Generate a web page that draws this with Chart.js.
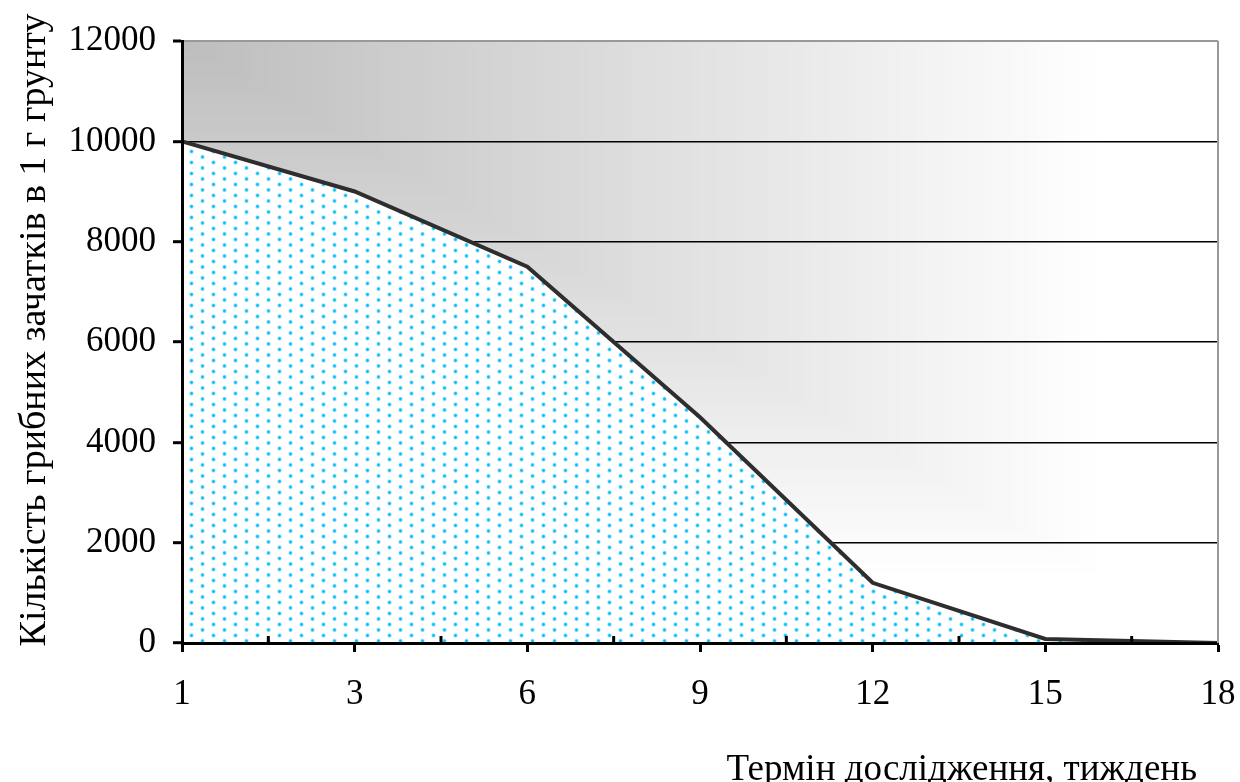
<!DOCTYPE html>
<html>
<head>
<meta charset="utf-8">
<script src="https://cdn.jsdelivr.net/npm/chart.js@4"></script>
<style>
    html, body { margin: 0; padding: 0; background: #fff; }
    #wrap { width: 1240px; height: 782px; }
</style>
</head>
<body>
<div id="wrap"><canvas id="fungiChart" width="1240" height="782"></canvas></div>
<script>
// дані з графіка
const weeks = ["1", "3", "6", "9", "12", "15", "18"];
const sporeCounts = [10000, 9000, 7500, 4500, 1200, 80, 0];
const yTicks = [0, 2000, 4000, 6000, 8000, 10000, 12000];

const FONT = "'Liberation Serif', 'Times New Roman', serif";

// крапчастий бірюзовий візерунок під лінією
function makeDots() {
    const c = document.createElement("canvas");
    c.width = 22; c.height = 11;
    const g = c.getContext("2d");
    g.fillStyle = "#fff";
    g.fillRect(0, 0, 22, 11);
    const pts = [[4.5, 3], [15.5, 8.5]];
    pts.forEach(([x, y]) => {
        g.fillStyle = "rgba(90, 210, 255, 0.55)";
        g.beginPath(); g.arc(x, y, 2.2, 0, Math.PI * 2); g.fill();
        g.fillStyle = "#0bc0f8";
        g.beginPath(); g.arc(x, y, 1.4, 0, Math.PI * 2); g.fill();
    });
    return g.createPattern(c, "repeat");
}

// сірий градієнт "від кута" у полі графіка
const cornerGradient = {
    id: "cornerGradient",
    beforeDraw(chart) {
        const { ctx, chartArea: a } = chart;
        const w = a.right - a.left, h = a.bottom - a.top;
        const N = 120;
        ctx.save();
        for (let k = N; k >= 1; k--) {
            const t = k / N;
            const v = Math.round(Math.min(255, 189 + 74 * t));
            ctx.fillStyle = `rgb(${v},${v},${v})`;
            ctx.fillRect(a.left, a.top, w * t, h * t);
        }
        ctx.restore();
    }
};

// проміжні риски на осі X, права рамка, підписи осей
const extras = {
    id: "extras",
    afterDraw(chart) {
        const { ctx, chartArea: a, scales } = chart;
        const x = scales.x;
        ctx.save();
        ctx.strokeStyle = "#999";
        ctx.lineWidth = 2;
        ctx.beginPath();
        ctx.moveTo(a.right, a.top);
        ctx.lineTo(a.right, a.bottom);
        ctx.stroke();

        ctx.strokeStyle = "#000";
        ctx.lineWidth = 3;
        for (let i = 0; i < weeks.length - 1; i++) {
            const px = x.getPixelForValue(i + 0.5);
            ctx.beginPath();
            ctx.moveTo(px, a.bottom);
            ctx.lineTo(px, a.bottom - 7);
            ctx.stroke();
        }

        ctx.fillStyle = "#000";
        ctx.font = "37px " + FONT;
        ctx.textAlign = "right";
        ctx.textBaseline = "alphabetic";
        ctx.fillText("Термін дослідження, тиждень", 1197, 780);

        ctx.translate(35, 330);
        ctx.rotate(-Math.PI / 2);
        ctx.font = "38px " + FONT;
        ctx.textAlign = "center";
        ctx.textBaseline = "middle";
        ctx.fillText("Кількість грибних зачатків в 1 г грунту", 0, 0);
        ctx.restore();
    }
};

new Chart(document.getElementById("fungiChart"), {
    type: "line",
    data: {
        labels: weeks,
        datasets: [{
            data: sporeCounts,
            borderColor: "#2e2e2e",
            borderWidth: 4,
            backgroundColor: makeDots(),
            fill: "origin",
            tension: 0,
            pointRadius: 0
        }]
    },
    options: {
        responsive: false,
        animation: false,
        layout: { padding: { left: 0, right: 22, top: 41, bottom: 0 } },
        plugins: {
            legend: { display: false },
            tooltip: { enabled: false }
        },
        scales: {
            x: {
                type: "category",
                offset: false,
                afterFit: (s) => { s.height = 139; s.paddingLeft = 0; s.paddingRight = 0; },
                grid: {
                    drawOnChartArea: false,
                    tickLength: 9,
                    tickWidth: 3,
                    tickColor: "#000"
                },
                border: { color: "#000", width: 3, z: 1 },
                ticks: {
                    color: "#000",
                    padding: 22,
                    maxRotation: 0,
                    font: { family: FONT, size: 35 }
                }
            },
            y: {
                min: 0,
                max: 12000,
                afterFit: (s) => { s.width = 182; },
                afterBuildTicks: (s) => { s.ticks = yTicks.map(v => ({ value: v })); },
                grid: {
                    color: (c) => c.tick && c.tick.value === 12000 ? "#999" : "#000",
                    lineWidth: (c) => c.tick && c.tick.value === 12000 ? 2 : 1.4,
                    tickLength: 9,
                    tickWidth: 3,
                    tickColor: "#000"
                },
                border: { color: "#000", width: 3, z: 1 },
                ticks: {
                    color: "#000",
                    padding: 17,
                    font: { family: FONT, size: 35 },
                    callback: (v) => String(v)
                }
            }
        }
    },
    plugins: [cornerGradient, extras]
});
</script>
</body>
</html>
